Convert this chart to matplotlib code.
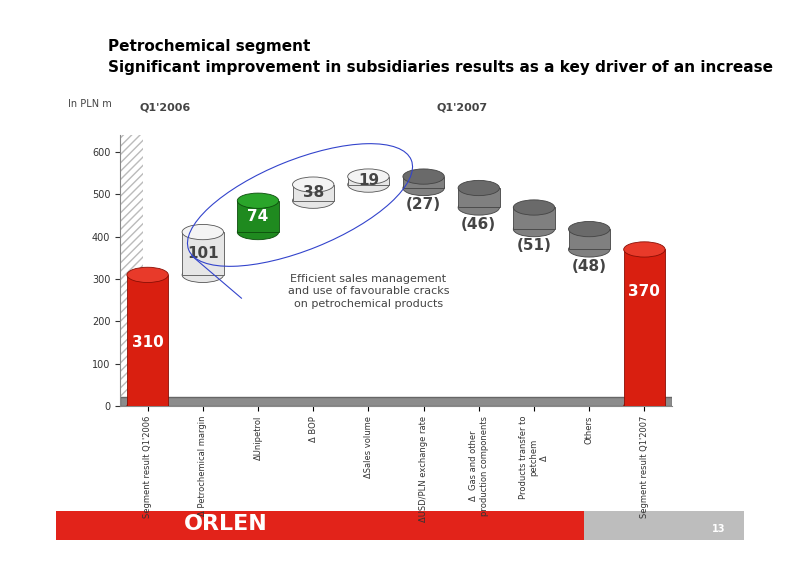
import matplotlib
matplotlib.use("Agg")
import matplotlib.pyplot as plt
from matplotlib.patches import Rectangle, Ellipse
import numpy as np

categories = ["Segment result Q1'2006", "\u0394 Petrochemical margin", "\u0394Unipetrol", "\u0394 BOP",
              "\u0394Sales volume", "\u0394USD/PLN exchange rate", "\u0394  Gas and other\nproduction components",
              "Products transfer to\npetchem\n\u0394", "Others", "Segment result Q1'2007"]
changes = [310, 101, 74, 38, 19, -27, -46, -51, -48, 370]
labels = ["310", "101", "74", "38", "19", "(27)", "(46)", "(51)", "(48)", "370"]

fig = plt.figure(figsize=(8, 5.65), dpi=100)
fig.patch.set_facecolor("white")
fig.text(0.135, 0.91, "Petrochemical segment", fontsize=11, fontweight="bold")
fig.text(0.135, 0.872, "Significant improvement in subsidiaries results as a key driver of an increase",
         fontsize=11, fontweight="bold")
fig.text(0.085, 0.81, "In PLN m", fontsize=7, color="#444")
fig.text(0.175, 0.805, "Q1'2006", fontsize=8, fontweight="bold", color="#444")
fig.text(0.545, 0.805, "Q1'2007", fontsize=8, fontweight="bold", color="#444")

fig.patches.append(Rectangle((0.07, 0.045), 0.66, 0.05, transform=fig.transFigure, facecolor="#e2231a", zorder=-5))
fig.patches.append(Rectangle((0.73, 0.045), 0.2, 0.05, transform=fig.transFigure, facecolor="#bdbdbd", zorder=-5))
fig.text(0.23, 0.062, "ORLEN", fontsize=16, fontweight="bold", color="white", zorder=-4)
fig.text(0.89, 0.058, "13", fontsize=7, color="white", fontweight="bold")

ax = fig.add_axes([0.15, 0.281, 0.69, 0.48])
ax.patch.set_alpha(0)
ax.set_xlim(-0.5, 9.5)
ax.set_ylim(0, 640)
ax.set_yticks([0, 100, 200, 300, 400, 500, 600])
ax.tick_params(axis="y", labelsize=7, colors="#333")
ax.set_xticks(np.arange(10))
ax.set_xticklabels(categories, rotation=90, fontsize=6, color="#333", va="top")
for s in ["top", "right"]:
    ax.spines[s].set_visible(False)
ax.spines["left"].set_color("#888")
ax.spines["bottom"].set_color("#888")
ax.add_patch(Rectangle((-0.5, 0), 0.42, 640, facecolor="white", hatch="////", edgecolor="#bbb", lw=0))
ax.add_patch(Rectangle((-0.5, 0), 10, 22, facecolor="#8c8c8c", edgecolor="#666", zorder=1))

w = 0.75
cum = 0
capH = 36
for i, v in enumerate(changes):
    if i == 0 or i == len(changes) - 1:
        bottom, top = 0, v
        face, edge, cap = "#d91f10", "#8a0f05", "#e83a2a"
        cum = v
    else:
        bottom, top = (cum, cum + v) if v > 0 else (cum + v, cum)
        cum += v
        if i == 2:
            face, edge, cap = "#1f8a1f", "#0d4d0d", "#2aa52a"
        elif v > 0:
            face, edge, cap = "#e6e6e6", "#555", "#f4f4f4"
        else:
            face, edge, cap = "#808080", "#444", "#6a6a6a"
    ax.add_patch(Rectangle((i - w / 2, bottom), w, top - bottom, facecolor=face, edgecolor=edge, lw=0.6, zorder=3))
    ax.add_patch(Ellipse((i, bottom), w, capH, facecolor=face, edgecolor=edge, lw=0.6, zorder=2))
    ax.add_patch(Ellipse((i, top), w, capH, facecolor=cap, edgecolor=edge, lw=0.6, zorder=4))
    if i in (0, 9):
        ax.text(i, top - 170 if i == 0 else top - 110, labels[i], ha="center", fontsize=11,
                fontweight="bold", color="white", zorder=5)
    elif v > 0:
        ax.text(i, (bottom + top) / 2 - 10, labels[i], ha="center", fontsize=11, fontweight="bold",
                color="white" if i == 2 else "#444", zorder=5)
    else:
        ax.text(i, bottom - 50, labels[i], ha="center", fontsize=11, fontweight="bold", color="#444", zorder=5)

fig.patches.append(Ellipse((300, 565 - 205), 240, 90, angle=22, fill=False, edgecolor="#3344cc",
                           lw=0.8, transform=None, zorder=6))
ax.plot([0.8, 1.7], [355, 255], color="#3344cc", lw=0.8, zorder=6)
ax.text(4.0, 235, "Efficient sales management\nand use of favourable cracks\non petrochemical products",
        ha="center", fontsize=8, color="#444", linespacing=1.3, zorder=6)

fig.savefig("out.png", dpi=100)
